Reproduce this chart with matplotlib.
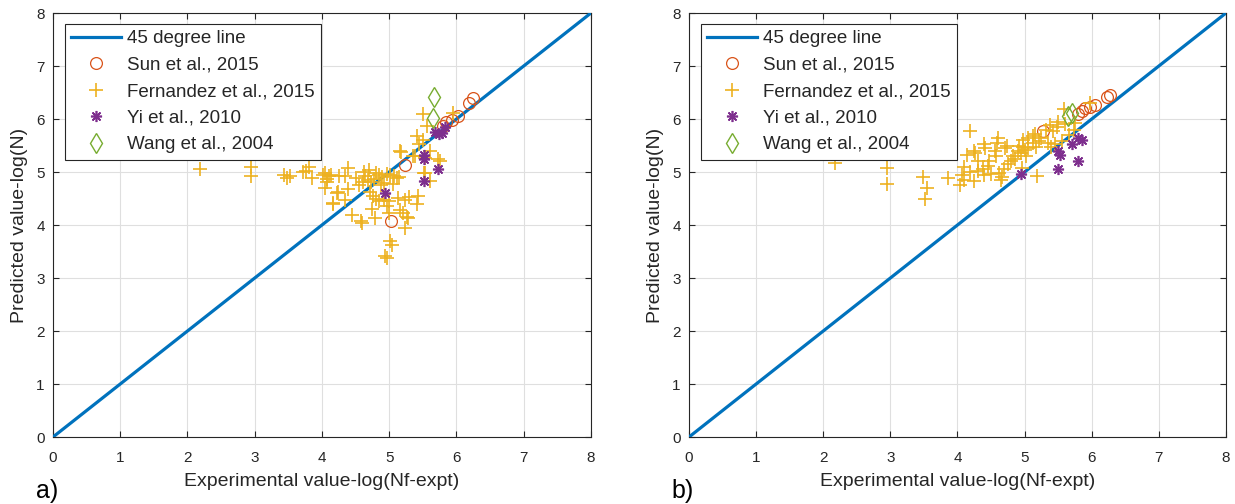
"""Predicted vs experimental fatigue life, two model variants."""

import matplotlib

matplotlib.use("Agg")
import matplotlib.pyplot as plt

plt.rcParams["font.family"] = ["Liberation Sans", "DejaVu Sans"]

# 45 degree reference line
line_x = [0, 8]
line_y = [0, 8]

# panel a)
sun_a_x = [5.23, 5.03, 5.80, 5.85, 5.93, 6.03, 6.19, 6.25]
sun_a_y = [5.14, 4.07, 5.87, 5.94, 5.98, 6.05, 6.30, 6.40]
fern_a_x = [2.19, 2.94, 2.94, 3.43, 3.48, 3.52, 3.80, 3.76, 3.85, 3.72,
            4.02, 4.07, 4.04, 4.22, 4.16, 4.05, 4.10, 4.08, 4.14, 4.26,
            4.34, 4.39, 4.24, 4.39, 4.17, 4.34, 4.44, 4.58, 4.79, 4.62,
            4.70, 4.80, 4.68, 4.73, 4.78, 4.61, 4.85, 4.90, 4.96, 5.01,
            5.07, 5.11, 5.15, 4.72, 4.76, 4.80, 4.99, 5.13, 5.23, 5.16,
            5.28, 5.23, 5.43, 5.41, 4.99, 5.01, 5.04, 4.94, 4.96, 5.17,
            5.38, 5.61, 5.73, 5.53, 5.60, 5.56, 5.95, 5.41, 5.44, 5.50,
            5.36, 5.16, 4.64, 4.88, 4.92, 5.05, 4.55, 4.50, 4.85, 4.92,
            4.75, 5.30, 5.20, 5.50, 5.53, 5.75, 5.26, 4.59, 4.96, 5.51]
fern_a_y = [5.06, 5.10, 4.93, 4.95, 4.89, 4.93, 5.10, 5.01, 4.89, 5.00,
            4.95, 4.87, 4.70, 4.61, 4.40, 4.98, 4.92, 4.82, 4.95, 4.93,
            4.93, 5.08, 4.62, 4.67, 4.42, 4.48, 4.18, 4.08, 4.14, 5.00,
            5.03, 4.98, 4.85, 4.82, 4.86, 4.82, 4.95, 4.90, 4.97, 4.95,
            4.92, 4.88, 4.90, 4.62, 4.55, 4.50, 4.45, 4.51, 4.48, 4.29,
            4.13, 3.94, 4.54, 4.39, 4.23, 3.69, 3.63, 3.41, 3.38, 5.37,
            5.30, 5.39, 5.25, 4.99, 4.83, 5.87, 6.12, 5.68, 5.52, 6.10,
            5.30, 5.39, 4.93, 4.75, 4.80, 4.78, 4.75, 4.88, 4.45, 4.48,
            4.30, 4.52, 4.22, 5.60, 5.27, 5.20, 4.16, 4.04, 4.35, 4.98]
yi_a_x = [4.94, 5.51, 5.73, 5.51, 5.51, 5.68, 5.78, 5.83, 5.74]
yi_a_y = [4.61, 4.83, 5.05, 5.24, 5.33, 5.75, 5.74, 5.84, 5.72]
wang_a_x = [5.66, 5.65]
wang_a_y = [6.42, 6.02]

# panel b)
sun_b_x = [5.28, 5.80, 5.85, 5.90, 5.98, 6.05, 6.22, 6.27]
sun_b_y = [5.77, 6.10, 6.16, 6.20, 6.22, 6.26, 6.42, 6.46]
fern_b_x = [2.18, 2.95, 2.95, 3.49, 3.54, 3.51, 3.86, 4.19, 4.61, 4.59,
            4.39, 4.41, 4.71, 4.74, 4.56, 4.58, 4.26, 4.14, 4.10, 4.07,
            4.09, 4.04, 4.30, 4.38, 4.45, 4.47, 4.24, 4.40, 4.50, 4.62,
            4.67, 4.65, 4.75, 4.80, 4.82, 4.90, 4.95, 5.00, 4.98, 4.97,
            5.05, 5.12, 5.15, 5.05, 5.12, 5.17, 5.22, 4.96, 5.18, 5.32,
            5.38, 5.42, 5.48, 5.35, 5.40, 5.45, 5.55, 5.58, 5.75, 5.73,
            5.98, 4.30, 4.18, 4.85, 4.70, 5.02, 4.92, 5.25, 5.50, 5.60,
            5.66, 4.24]
fern_b_y = [5.17, 5.08, 4.78, 4.91, 4.70, 4.50, 4.89, 5.77, 5.65, 5.55,
            5.52, 5.46, 5.45, 5.50, 5.40, 5.30, 5.36, 5.33, 5.10, 4.95,
            4.85, 4.75, 5.02, 5.05, 5.12, 5.20, 4.83, 4.94, 4.97, 4.98,
            4.90, 4.85, 5.15, 5.20, 5.30, 5.40, 5.35, 5.42, 5.48, 5.60,
            5.65, 5.68, 5.72, 5.45, 5.55, 5.48, 5.58, 5.08, 4.92, 5.80,
            5.88, 5.78, 5.85, 5.55, 5.48, 5.52, 5.58, 6.18, 5.92, 5.80,
            6.31, 5.20, 5.00, 5.25, 5.05, 5.30, 5.50, 5.65, 5.95, 5.90,
            5.70, 5.39]
yi_b_x = [4.95, 5.50, 5.53, 5.50, 5.70, 5.80, 5.85, 5.79]
yi_b_y = [4.97, 5.39, 5.32, 5.05, 5.52, 5.65, 5.60, 5.20]
wang_b_x = [5.65, 5.70]
wang_b_y = [6.06, 6.12]

ticks = [0, 1, 2, 3, 4, 5, 6, 7, 8]


def draw_panel(ax, sun, fern, yi, wang, tag):
    ax.plot(line_x, line_y, color="#0072BD", linewidth=2.3, label="45 degree line", zorder=3)
    ax.plot(sun[0], sun[1], "o", mfc="none", mec="#D95319", ms=8.5, mew=0.9,
            label="Sun et al., 2015", zorder=4)
    ax.plot(fern[0], fern[1], "+", color="#EDB120", ms=9.5, mew=1.2,
            label="Fernandez et al., 2015", zorder=4)
    ax.plot(yi[0], yi[1], linestyle="none", marker=(8, 2, 0), color="#7E2F8E", ms=8,
            mew=1.2, label="Yi et al., 2010", zorder=4)
    ax.plot(wang[0], wang[1], "d", mfc="none", mec="#77AC30", ms=10, mew=1.0,
            label="Wang et al., 2004", zorder=4)

    ax.set_xlim(0, 8)
    ax.set_ylim(0, 8)
    ax.set_xticks(ticks)
    ax.set_yticks(ticks)
    ax.grid(True, color="#dfdfdf", linewidth=0.8)
    ax.set_axisbelow(True)
    for s in ax.spines.values():
        s.set_color("#262626")
        s.set_linewidth(0.8)
    ax.tick_params(axis="both", direction="in", length=4, width=0.8, colors="#262626",
                   labelsize=11, top=True, right=True)
    ax.tick_params(axis="x", pad=10)
    ax.tick_params(axis="y", pad=6)
    ax.set_xlabel("Experimental value-log(Nf-expt)", fontsize=14, color="#262626", labelpad=6)
    ax.set_ylabel("Predicted value-log(N)", fontsize=14, color="#262626", labelpad=6)

    leg = ax.legend(loc="upper left", bbox_to_anchor=(0.022, 0.975), fontsize=13.5,
                    frameon=True, fancybox=False, framealpha=1, edgecolor="#262626",
                    handlelength=2.65, handletextpad=0.3, borderpad=0.35, labelspacing=0.5,
                    borderaxespad=0)
    leg.get_frame().set_linewidth(0.8)
    for t in leg.get_texts():
        t.set_color("#262626")

    ax.text(-0.032, -0.098, tag, transform=ax.transAxes, fontsize=18, ha="left", va="top")


fig = plt.figure(figsize=(12.35, 5.04), dpi=100)
ax_a = fig.add_axes([0.0429, 0.1329, 0.4356, 0.8413])
ax_b = fig.add_axes([0.5579, 0.1329, 0.4348, 0.8413])

draw_panel(ax_a, (sun_a_x, sun_a_y), (fern_a_x, fern_a_y), (yi_a_x, yi_a_y),
           (wang_a_x, wang_a_y), "a)")
draw_panel(ax_b, (sun_b_x, sun_b_y), (fern_b_x, fern_b_y), (yi_b_x, yi_b_y),
           (wang_b_x, wang_b_y), "b)")

fig.savefig("out.png", dpi=100)
plt.close(fig)
